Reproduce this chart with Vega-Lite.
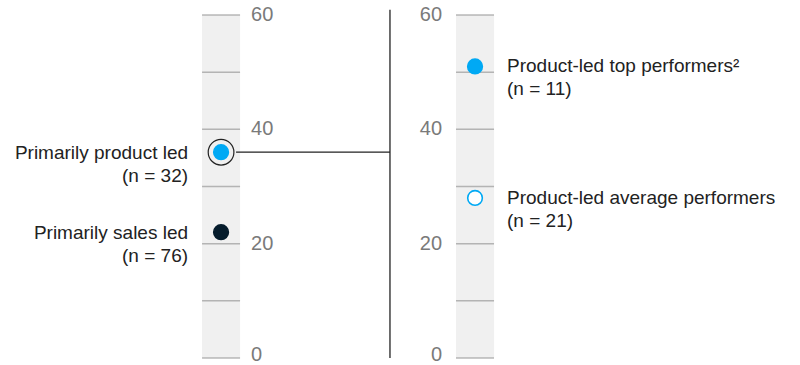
{
  "$schema": "https://vega.github.io/schema/vega-lite/v6.json",
  "width": 800,
  "height": 343,
  "autosize": {"type": "none"},
  "padding": {"top": 15, "bottom": 7, "left": 0, "right": 0},
  "background": "white",
  "config": {"view": {"stroke": null}, "font": "Liberation Sans"},
  "datasets": {
    "points": [
      {"panel": "Overall", "group": "Primarily product led", "n": 32, "value": 36},
      {"panel": "Overall", "group": "Primarily sales led", "n": 76, "value": 22},
      {"panel": "Product-led", "group": "Product-led top performers²", "n": 11, "value": 51},
      {"panel": "Product-led", "group": "Product-led average performers", "n": 21, "value": 28}
    ],
    "ticks": [
      {"panel": "Overall", "value": 0}, {"panel": "Overall", "value": 10}, {"panel": "Overall", "value": 20},
      {"panel": "Overall", "value": 30}, {"panel": "Overall", "value": 40}, {"panel": "Overall", "value": 50},
      {"panel": "Overall", "value": 60},
      {"panel": "Product-led", "value": 0}, {"panel": "Product-led", "value": 10}, {"panel": "Product-led", "value": 20},
      {"panel": "Product-led", "value": 30}, {"panel": "Product-led", "value": 40}, {"panel": "Product-led", "value": 50},
      {"panel": "Product-led", "value": 60}
    ]
  },
  "encoding": {
    "x": {"field": "panel", "type": "nominal", "axis": null,
      "scale": {"domain": ["Overall", "Product-led"], "paddingInner": 0.85, "paddingOuter": 1, "align": 0.3977}},
    "y": {"field": "value", "type": "quantitative", "axis": null,
      "scale": {"domain": [0, 60], "nice": false, "zero": false}}
  },
  "layer": [
    {
      "data": {"name": "ticks"},
      "mark": {"type": "rect", "color": "#f0f0f0"},
      "encoding": {
        "y": {"aggregate": "min", "field": "value", "type": "quantitative"},
        "y2": {"aggregate": "max", "field": "value"}
      }
    },
    {
      "data": {"name": "ticks"},
      "mark": {"type": "tick", "orient": "horizontal", "size": 38, "thickness": 1.5, "color": "#9a9a9a"}
    },
    {
      "data": {"name": "ticks"},
      "transform": [{"filter": "datum.panel === 'Overall' && datum.value % 20 === 0 && datum.value > 0"}],
      "mark": {"type": "text", "align": "left", "baseline": "middle", "dx": 30, "fontSize": 20, "color": "#7a7a7a"},
      "encoding": {"text": {"field": "value", "type": "quantitative"}}
    },
    {
      "data": {"name": "ticks"},
      "transform": [{"filter": "datum.panel === 'Overall' && datum.value === 0"}],
      "mark": {"type": "text", "align": "left", "baseline": "middle", "dx": 30, "dy": -3, "fontSize": 20, "color": "#7a7a7a"},
      "encoding": {"text": {"field": "value", "type": "quantitative"}}
    },
    {
      "data": {"name": "ticks"},
      "transform": [{"filter": "datum.panel === 'Product-led' && datum.value % 20 === 0 && datum.value > 0"}],
      "mark": {"type": "text", "align": "right", "baseline": "middle", "dx": -33, "fontSize": 20, "color": "#7a7a7a"},
      "encoding": {"text": {"field": "value", "type": "quantitative"}}
    },
    {
      "data": {"name": "ticks"},
      "transform": [{"filter": "datum.panel === 'Product-led' && datum.value === 0"}],
      "mark": {"type": "text", "align": "right", "baseline": "middle", "dx": -33, "dy": -3, "fontSize": 20, "color": "#7a7a7a"},
      "encoding": {"text": {"field": "value", "type": "quantitative"}}
    },
    {
      "data": {"name": "ticks"},
      "transform": [{"filter": "datum.panel === 'Product-led'"}],
      "mark": {"type": "rule", "color": "#222222", "strokeWidth": 1.3, "xOffset": -66},
      "encoding": {
        "x": {"field": "panel", "type": "nominal", "bandPosition": 0},
        "y": {"aggregate": "min", "field": "value", "type": "quantitative"},
        "y2": {"datum": 60.9}
      }
    },
    {
      "data": {"name": "points"},
      "transform": [{"filter": "datum.group === 'Primarily product led'"}],
      "mark": {"type": "rule", "color": "#222222", "strokeWidth": 1.3, "xOffset": 15, "x2Offset": -66},
      "encoding": {
        "x": {"datum": "Overall", "bandPosition": 0.5},
        "x2": {"datum": "Product-led", "bandPosition": 0}
      }
    },
    {
      "data": {"name": "points"},
      "transform": [{"filter": "datum.group === 'Primarily product led'"}],
      "mark": {"type": "point", "shape": "circle", "filled": false, "size": 660, "stroke": "#222222", "strokeWidth": 1.2, "opacity": 1}
    },
    {
      "data": {"name": "points"},
      "mark": {"type": "point", "shape": "circle", "size": 215, "strokeWidth": 1.6, "opacity": 1},
      "encoding": {
        "fill": {"field": "group", "type": "nominal", "legend": null,
          "scale": {"domain": ["Primarily product led", "Primarily sales led", "Product-led top performers²", "Product-led average performers"],
                    "range": ["#00a9f4", "#051c2c", "#00a9f4", "#ffffff"]}},
        "stroke": {"field": "group", "type": "nominal", "legend": null,
          "scale": {"domain": ["Primarily product led", "Primarily sales led", "Product-led top performers²", "Product-led average performers"],
                    "range": ["#00a9f4", "#051c2c", "#00a9f4", "#00a9f4"]}}
      }
    },
    {
      "data": {"name": "points"},
      "transform": [
        {"filter": "datum.panel === 'Overall'"},
        {"calculate": "[datum.group, '(n = ' + datum.n + ')']", "as": "label"}
      ],
      "mark": {"type": "text", "align": "right", "baseline": "middle", "dx": -33, "dy": 1, "fontSize": 19, "lineHeight": 23, "color": "#222222"},
      "encoding": {"text": {"field": "label"}}
    },
    {
      "data": {"name": "points"},
      "transform": [
        {"filter": "datum.panel === 'Product-led'"},
        {"calculate": "[datum.group, '(n = ' + datum.n + ')']", "as": "label"}
      ],
      "mark": {"type": "text", "align": "left", "baseline": "middle", "dx": 32, "dy": 0, "fontSize": 19, "lineHeight": 23, "color": "#222222"},
      "encoding": {"text": {"field": "label"}}
    }
  ]
}
